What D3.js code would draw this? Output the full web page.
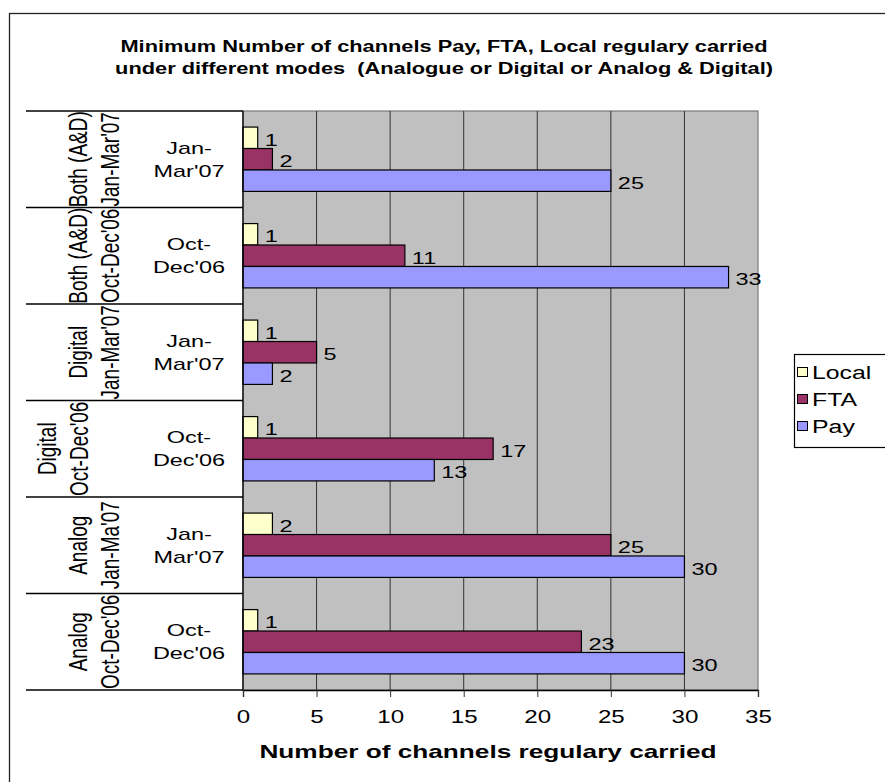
<!DOCTYPE html>
<html>
<head>
<meta charset="utf-8">
<script src="https://cdn.jsdelivr.net/npm/d3@7"></script>
<style>
  html, body { margin: 0; padding: 0; background: #fff; }
  svg { display: block; }
  text { font-family: "Liberation Sans", Arial, sans-serif; fill: #000; white-space: pre; }
</style>
</head>
<body>
<svg id="chart" width="885" height="782"></svg>
<script>
// Channel counts per mode and quarter
const periodLines = [["Jan-", "Mar'07"], ["Oct-", "Dec'06"], ["Jan-", "Mar'07"], ["Oct-", "Dec'06"], ["Jan-", "Mar'07"], ["Oct-", "Dec'06"]];
const groupLines = [["Both (A&D)", "Jan-Mar'07"], ["Both (A&D)", "Oct-Dec'06"], ["Digital", "Jan-Mar'07"], ["Digital", "Oct-Dec'06"], ["Analog", "Jan-Ma'07"], ["Analog", "Oct-Dec'06"]];
const seriesNames = ["Local", "FTA", "Pay"];
const localValues = [1, 1, 1, 1, 2, 1];
const ftaValues = [2, 11, 5, 17, 25, 23];
const payValues = [25, 33, 2, 13, 30, 30];
const xTicks = [0, 5, 10, 15, 20, 25, 30, 35];
const titleLines = ["Minimum Number of channels Pay, FTA, Local regulary carried",
                    "under different modes  (Analogue or Digital or Analog & Digital)"];
const xTitle = "Number of channels regulary carried";

const colors = { Local: "#FFFFCC", FTA: "#993366", Pay: "#9999FF" };
const SX = 1.38; // horizontal text stretch

const svg = d3.select("#chart");
const plot = { left: 243, right: 758, top: 111, bottom: 690 };

const rows = d3.range(periodLines.length);
const valuesBySeries = { Local: localValues, FTA: ftaValues, Pay: payValues };

const x = d3.scaleLinear().domain([0, 35]).range([plot.left, plot.right]);
const y = d3.scaleBand().domain(rows).range([plot.top, plot.bottom]).paddingInner(0).paddingOuter(0);
// gap width 50%: bars fill 2/3 of each category
const yInner = d3.scaleBand().domain(seriesNames)
  .range([y.bandwidth() / 6, y.bandwidth() * 5 / 6]);

// outer chart border
svg.append("rect").attr("x", 9.5).attr("y", 13.5).attr("width", 1000).attr("height", 1000)
  .attr("fill", "#fff").attr("stroke", "#222").attr("stroke-width", 1.3);

// title
const tg = svg.append("g");
titleLines.forEach((t, i) => {
  tg.append("text")
    .attr("transform", `translate(444,${52 + i * 22}) scale(${SX},1)`)
    .attr("text-anchor", "middle").attr("font-weight", "bold").attr("font-size", 15.8)
    .text(t);
});

// plot background
svg.append("rect").attr("x", plot.left).attr("y", plot.top)
  .attr("width", plot.right - plot.left).attr("height", plot.bottom - plot.top)
  .attr("fill", "#C0C0C0").attr("stroke", "#808080").attr("stroke-width", 1.3);

// vertical gridlines
svg.append("g").selectAll("line").data(xTicks.slice(1, -1)).join("line")
  .attr("x1", d => x(d)).attr("x2", d => x(d))
  .attr("y1", plot.top).attr("y2", plot.bottom)
  .attr("stroke", "#333").attr("stroke-width", 1);

// bars
const rowG = svg.append("g").selectAll("g").data(rows).join("g")
  .attr("transform", d => `translate(0,${y(d)})`);
rowG.selectAll("rect").data(r => seriesNames.map(s => ({ s, v: valuesBySeries[s][r] }))).join("rect")
  .attr("x", x(0)).attr("y", d => yInner(d.s))
  .attr("width", d => x(d.v) - x(0)).attr("height", yInner.bandwidth())
  .attr("fill", d => colors[d.s]).attr("stroke", "#000").attr("stroke-width", 1.2);
// value labels
rowG.selectAll("text").data(r => seriesNames.map(s => ({ s, v: valuesBySeries[s][r] }))).join("text")
  .attr("transform", d => `translate(${x(d.v) + 7},${yInner(d.s) + yInner.bandwidth() / 2 + 8}) scale(${SX},1)`)
  .attr("font-size", 17).text(d => d.v);

// x axis
const xAxis = d3.axisBottom(x).tickValues(xTicks).tickSize(7).tickPadding(14).tickFormat(d3.format("d"));
const xg = svg.append("g").attr("transform", `translate(0,${plot.bottom})`).call(xAxis);
xg.select(".domain").attr("stroke", "#000").attr("stroke-width", 1.3);
xg.selectAll(".tick line").attr("stroke", "#333");
xg.selectAll(".tick text")
  .attr("font-size", 17.5)
  .attr("font-family", "Liberation Sans, Arial, sans-serif")
  .attr("fill", "#000")
  .attr("transform", `scale(${SX},1)`);

// x axis title
svg.append("text")
  .attr("transform", `translate(488,758) scale(${SX},1)`)
  .attr("text-anchor", "middle").attr("font-weight", "bold").attr("font-size", 19)
  .text(xTitle);

// y axis: divider lines between categories
svg.append("g").selectAll("line").data(d3.range(rows.length + 1)).join("line")
  .attr("x1", 26).attr("x2", plot.left)
  .attr("y1", d => plot.top + d * y.bandwidth()).attr("y2", d => plot.top + d * y.bandwidth())
  .attr("stroke", "#000").attr("stroke-width", 1.3);
svg.append("line").attr("x1", plot.left).attr("x2", plot.left)
  .attr("y1", plot.top).attr("y2", plot.bottom)
  .attr("stroke", "#000").attr("stroke-width", 1.3);

// inner category labels (quarter)
rows.forEach(r => {
  const cy = y(r) + y.bandwidth() / 2;
  periodLines[r].forEach((t, i) => {
    svg.append("text")
      .attr("transform", `translate(189,${cy - 11.3 + i * 22.7 + 6}) scale(${SX},1)`)
      .attr("text-anchor", "middle").attr("font-size", 17).text(t);
  });
});

// outer group labels (mode + quarter), rotated
rows.forEach(r => {
  const cy = y(r) + y.bandwidth() / 2;
  const base = r === 3 ? [56, 88] : [87, 119];
  groupLines[r].forEach((t, i) => {
    svg.append("text")
      .attr("transform", `translate(${base[i]},${cy}) scale(${SX},1) rotate(-90)`)
      .attr("text-anchor", "middle").attr("font-size", 19).text(t);
  });
});

// legend
const lg = svg.append("g").attr("transform", "translate(794,354)");
lg.append("rect").attr("x", 0.5).attr("y", 0.5).attr("width", 200).attr("height", 93)
  .attr("fill", "#fff").attr("stroke", "#000").attr("stroke-width", 1.2);
seriesNames.forEach((s, i) => {
  const cy = 18 + i * 27;
  lg.append("rect").attr("x", 3.5).attr("y", cy - 4.5).attr("width", 10).attr("height", 9)
    .attr("fill", colors[s]).attr("stroke", "#000").attr("stroke-width", 1);
  lg.append("text").attr("transform", `translate(18,${cy + 7}) scale(${SX},1)`)
    .attr("font-size", 18).text(s);
});
</script>
</body>
</html>
